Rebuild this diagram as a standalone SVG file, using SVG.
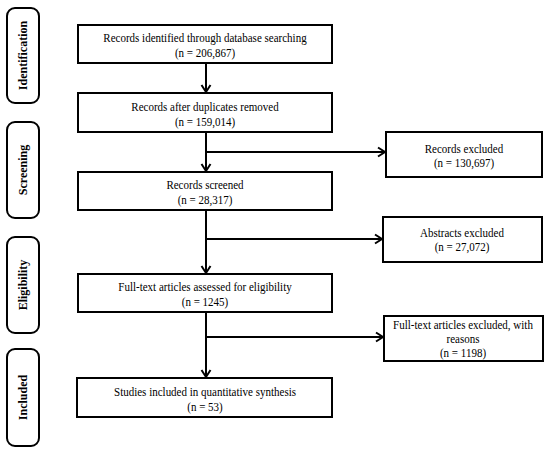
<svg xmlns="http://www.w3.org/2000/svg" width="550" height="452" viewBox="0 0 550 452">
<defs>
<style>
.box{fill:#fff;stroke:#000;stroke-width:2}
.stage{fill:#fff;stroke:#000;stroke-width:2}
.t{font-family:'Liberation Serif','Times New Roman',serif;font-size:12.5px;fill:#000;text-anchor:middle}
.s{font-family:'Liberation Serif','Times New Roman',serif;font-size:12px;font-weight:bold;fill:#000;text-anchor:middle}
.c{fill:none;stroke:#000;stroke-width:2}
</style>
<marker id="ah" markerWidth="12" markerHeight="12" refX="9" refY="6" orient="auto" markerUnits="userSpaceOnUse">
<polyline points="2,1.5 9,6 2,10.5" fill="none" stroke="#000" stroke-width="2"/>
</marker>
</defs>
<rect width="550" height="452" fill="#fff"/>
<g id="stage-identification"><rect class="stage" x="7" y="8" width="32" height="95" rx="8"/><text class="s" transform="translate(27,55.5) rotate(-90)">Identification</text></g>
<g id="stage-screening"><rect class="stage" x="7" y="122" width="32" height="96" rx="8"/><text class="s" transform="translate(27,170) rotate(-90)">Screening</text></g>
<g id="stage-eligibility"><rect class="stage" x="7" y="237" width="32" height="96" rx="8"/><text class="s" transform="translate(27,285) rotate(-90)">Eligibility</text></g>
<g id="stage-included"><rect class="stage" x="7" y="349" width="32" height="97" rx="8"/><text class="s" transform="translate(27,397.5) rotate(-90)">Included</text></g>
<g id="connectors">
<line class="c" x1="206" y1="63" x2="206" y2="92" marker-end="url(#ah)"/>
<line class="c" x1="206" y1="132" x2="206" y2="171" marker-end="url(#ah)"/>
<line class="c" x1="206" y1="152" x2="385" y2="152" marker-end="url(#ah)"/>
<line class="c" x1="206" y1="210" x2="206" y2="273" marker-end="url(#ah)"/>
<line class="c" x1="206" y1="239" x2="382" y2="239" marker-end="url(#ah)"/>
<line class="c" x1="206" y1="312" x2="206" y2="377" marker-end="url(#ah)"/>
<line class="c" x1="206" y1="337" x2="383" y2="337" marker-end="url(#ah)"/>
</g>
<g id="n1"><rect class="box" x="78" y="25" width="254" height="38"/><text class="t" transform="matrix(0.88,0,0,1,205,42)">Records identified through database searching</text><text class="t" transform="matrix(0.88,0,0,1,205,56.5)">(n = 206,867)</text></g>
<g id="n2"><rect class="box" x="78" y="93" width="254" height="39"/><text class="t" transform="matrix(0.88,0,0,1,205,111)">Records after duplicates removed</text><text class="t" transform="matrix(0.88,0,0,1,205,125.5)">(n = 159,014)</text></g>
<g id="n3"><rect class="box" x="78" y="172" width="254" height="38"/><text class="t" transform="matrix(0.88,0,0,1,205,189)">Records screened</text><text class="t" transform="matrix(0.88,0,0,1,205,203.5)">(n = 28,317)</text></g>
<g id="n4"><rect class="box" x="78" y="274" width="254" height="38"/><text class="t" transform="matrix(0.88,0,0,1,205,291)">Full-text articles assessed for eligibility</text><text class="t" transform="matrix(0.88,0,0,1,205,305.5)">(n = 1245)</text></g>
<g id="n5"><rect class="box" x="77" y="378" width="255" height="39"/><text class="t" transform="matrix(0.88,0,0,1,205,396)">Studies included in quantitative synthesis</text><text class="t" transform="matrix(0.88,0,0,1,205,410.5)">(n = 53)</text></g>
<g id="x1"><rect class="box" x="386" y="132" width="156" height="45"/><text class="t" transform="matrix(0.88,0,0,1,464,153)">Records excluded</text><text class="t" transform="matrix(0.88,0,0,1,464,167)">(n = 130,697)</text></g>
<g id="x2"><rect class="box" x="383" y="217" width="159" height="45"/><text class="t" transform="matrix(0.88,0,0,1,462,237)">Abstracts excluded</text><text class="t" transform="matrix(0.88,0,0,1,462,251)">(n = 27,072)</text></g>
<g id="x3"><rect class="box" x="384" y="316" width="159" height="45"/><text class="t" transform="matrix(0.88,0,0,1,463,329)">Full-text articles excluded, with</text><text class="t" transform="matrix(0.88,0,0,1,463,343)">reasons</text><text class="t" transform="matrix(0.88,0,0,1,463,357)">(n = 1198)</text></g>
</svg>
